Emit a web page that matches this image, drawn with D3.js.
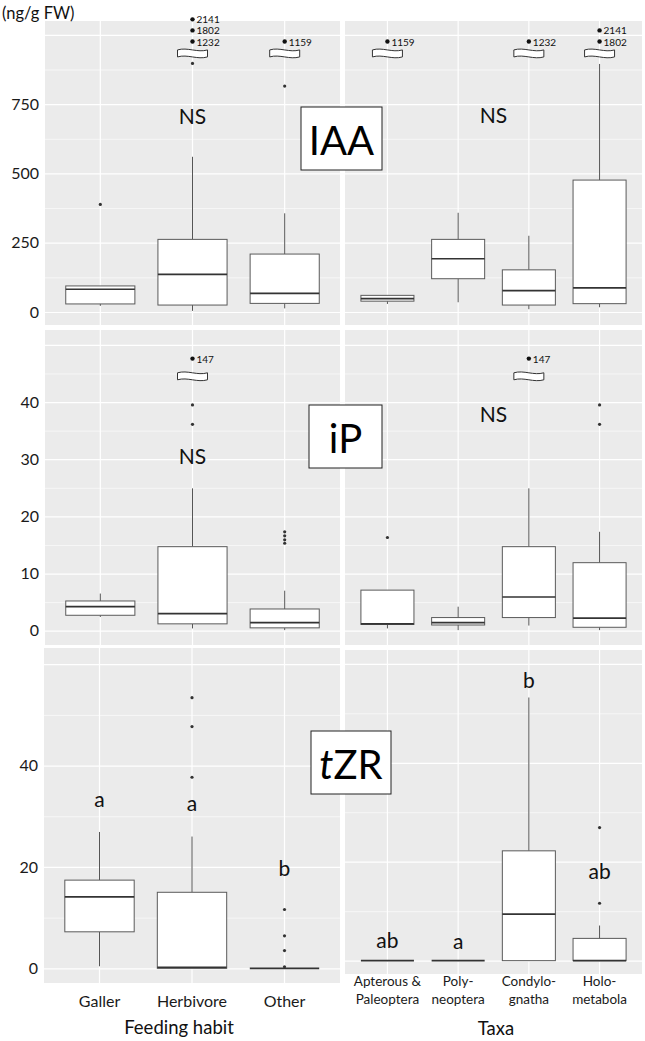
<!DOCTYPE html>
<html><head><meta charset="utf-8">
<script src="https://cdn.jsdelivr.net/npm/d3@7"></script>
<style>
body{margin:0;background:#fff;}
text{font-family:Lato,"Open Sans","Liberation Sans",sans-serif;}
</style>
</head><body>
<svg id="c" width="645" height="1041"></svg>
<script>
// ---------- categories ----------
const feedingCats = ["Galler","Herbivore","Other"];
const taxaCats = ["Apterous & Paleoptera","Polyneoptera","Condylognatha","Holometabola"];
const taxaTickLines = [["Apterous &","Paleoptera"],["Poly-","neoptera"],["Condylo-","gnatha"],["Holo-","metabola"]];
const hormoneNames = ["IAA","iP","tZR"];

// ---------- box statistics: [lower whisker, Q1, median, Q3, upper whisker] ----------
const iaaFeeding = [[22,29,82,94,94],[4,25,136,262,560],[13,31,67,209,356]];
const iaaFeedingOut = [[388],[897],[815]];
const iaaFeedingExtreme = [[],[1232,1802,2141],[1159]];
const iaaTaxa = [[29,39,48,60,60],[35,120,192,262,358],[10,25,77,152,275],[17,30,87,476,895]];
const iaaTaxaOut = [[],[],[],[]];
const iaaTaxaExtreme = [[1159],[],[1232],[1802,2141]];

const ipFeeding = [[2.4,2.7,4.2,5.2,6.5],[0.4,1.2,3.0,14.7,24.9],[0.1,0.5,1.4,3.8,7.0]];
const ipFeedingOut = [[],[36.1,39.5],[15.3,15.9,16.6,17.3]];
const ipFeedingExtreme = [[],[147],[]];
const ipTaxa = [[0.4,1.1,1.2,7.1,7.1],[0.1,1.0,1.4,2.3,4.2],[0.9,2.3,5.9,14.7,24.9],[0.1,0.6,2.2,11.9,17.3]];
const ipTaxaOut = [[16.3],[],[],[36.1,39.5]];
const ipTaxaExtreme = [[],[],[147],[]];

const tzrFeeding = [[0.4,7.2,14.1,17.4,26.9],[0,0,0.2,15.0,26.0],[0,0,0,0,0]];
const tzrFeedingOut = [[],[37.7,47.7,53.4],[0.3,3.5,6.4,11.6]];
const tzrTaxa = [[0,0,0,0,0],[0,0,0,0,0],[0,0,9.4,22.2,53.2],[0,0,0,4.5,7.1]];
const tzrTaxaOut = [[],[],[],[11.6,26.9]];

// ---------- tick values ----------
const iaaMajor = [0,250,500,750,1000], iaaMinor = [125,375,625,875], iaaLabels = [0,250,500,750];
const ipMajor = [0,10,20,30,40,50], ipMinor = [5,15,25,35,45], ipLabels = [0,10,20,30,40];
const tzrMajor = [0,20,40,60], tzrMinor = [10,30,50], tzrLabels = [0,20,40];

// ---------- significance annotations ----------
const tzrFeedingLetters = ["a","a","b"], tzrFeedingLetterY = [33.5,32.7,19.8];
const tzrTaxaLetters = ["ab","a","b","ab"], tzrTaxaLetterY = [4.3,4.0,56.8,18.3];

const svg = d3.select("#c");

function drawPanel(p){
  const g = svg.append("g");
  g.append("rect").attr("x",p.x).attr("y",p.y).attr("width",p.w).attr("height",p.h).attr("fill","#ebebeb");
  const x = d3.scaleBand().domain(p.cats).range([p.x,p.x+p.w]).paddingInner(0).paddingOuter(0.1);
  const y = d3.scaleLinear().domain(p.domain).range([p.y+p.h,p.y]);
  const step = x.step(), bw = 0.75*step;
  const cxOf = k => x(p.cats[0]) + x.bandwidth()/2 + k*step;

  // grid
  const grid = (vals,sw)=> g.append("g").attr("transform",`translate(${p.x},0)`)
    .call(d3.axisLeft(y).tickValues(vals).tickSize(-p.w).tickFormat(""))
    .call(s=>{s.select(".domain").remove();s.selectAll("line").attr("stroke","#fff").attr("stroke-width",sw);});
  grid(p.minor,0.6); grid(p.major,1.2);
  g.append("g").attr("transform",`translate(0,${p.y+p.h})`)
    .call(d3.axisBottom(x).tickSize(p.h).tickFormat(""))
    .call(s=>{s.select(".domain").remove();s.selectAll("line").attr("stroke","#fff").attr("stroke-width",1.2).attr("transform",`translate(0,${-p.h})`);});

  // y labels
  if(p.labels){
    g.append("g").attr("transform",`translate(${p.x},0)`)
      .call(d3.axisLeft(y).tickValues(p.labels).tickSize(0).tickPadding(6))
      .call(s=>{s.select(".domain").remove();s.selectAll("text").attr("font-size",16).attr("fill","#1a1a1a").attr("font-family","Lato, sans-serif");});
  }

  // boxes
  p.stats.forEach((s,i)=>{
    const cx = cxOf(i);
    g.append("line").attr("x1",cx).attr("x2",cx).attr("y1",y(s[0])).attr("y2",y(s[1])).attr("stroke","#555").attr("stroke-width",1);
    g.append("line").attr("x1",cx).attr("x2",cx).attr("y1",y(s[3])).attr("y2",y(s[4])).attr("stroke","#555").attr("stroke-width",1);
    g.append("rect").attr("x",cx-bw/2).attr("width",bw).attr("y",y(s[3])).attr("height",Math.max(0,y(s[1])-y(s[3])))
      .attr("fill","#fff").attr("stroke","#5a5a5a").attr("stroke-width",1);
    g.append("line").attr("x1",cx-bw/2).attr("x2",cx+bw/2).attr("y1",y(s[2])).attr("y2",y(s[2])).attr("stroke","#333").attr("stroke-width",1.7);
    (p.out[i]||[]).forEach(v=>{
      g.append("circle").attr("cx",cx).attr("cy",y(v)).attr("r",1.6).attr("fill","#333");
    });
    const ex = p.extreme ? p.extreme[i] : [];
    if(ex && ex.length){
      const by = y(p.breakVal), hw = 15, hh = 3.5;
      const x0 = cx-hw, x1 = cx+hw, yt = by-hh, yb = by+hh;
      g.append("path").attr("d",`M${x0},${yt} C${x0+10},${yt-3} ${x0+20},${yt+3} ${x1},${yt} L${x1},${yb} C${x1-10},${yb+3} ${x0+10},${yb-3} ${x0},${yb} Z`)
        .attr("fill","#fff").attr("stroke","#333").attr("stroke-width",1);
      ex.forEach((v,j)=>{
        const ey = y(p.extStart + j*p.extStep);
        g.append("circle").attr("cx",cx).attr("cy",ey).attr("r",2.2).attr("fill","#111");
        g.append("text").attr("x",cx+4).attr("y",ey).attr("dominant-baseline","central")
          .attr("font-size",p.extFont).attr("fill","#111").text(v);
      });
    }
  });

  // annotations
  (p.notes||[]).forEach(n=>{
    g.append("text").attr("x",cxOf(n.k)).attr("y",y(n.v)).attr("text-anchor","middle")
      .attr("dominant-baseline","central").attr("font-size",21).attr("fill","#111").text(n.t);
  });
  return {x,y,cxOf};
}

// ---------- panels ----------
drawPanel({x:45,y:21,w:295,h:304,cats:feedingCats,domain:[-47,1050],major:iaaMajor,minor:iaaMinor,labels:iaaLabels,
  stats:iaaFeeding,out:iaaFeedingOut,extreme:iaaFeedingExtreme,breakVal:933,extStart:976,extStep:40,extFont:10,
  notes:[{k:1,v:708,t:"NS"}]});
drawPanel({x:345,y:21,w:297,h:304,cats:taxaCats,domain:[-47,1050],major:iaaMajor,minor:iaaMinor,
  stats:iaaTaxa,out:iaaTaxaOut,extreme:iaaTaxaExtreme,breakVal:933,extStart:976,extStep:40,extFont:10,
  notes:[{k:1.5,v:711,t:"NS"}]});

drawPanel({x:45,y:330,w:295,h:315,cats:feedingCats,domain:[-2.5,52.6],major:ipMajor,minor:ipMinor,labels:ipLabels,
  stats:ipFeeding,out:ipFeedingOut,extreme:ipFeedingExtreme,breakVal:44.5,extStart:47.6,extStep:3,extFont:10,
  notes:[{k:1,v:30.7,t:"NS"}]});
drawPanel({x:345,y:330,w:297,h:315,cats:taxaCats,domain:[-2.5,52.6],major:ipMajor,minor:ipMinor,
  stats:ipTaxa,out:ipTaxaOut,extreme:ipTaxaExtreme,breakVal:44.5,extStart:47.6,extStep:3,extFont:10,
  notes:[{k:1.5,v:38.0,t:"NS"}]});

const bl = drawPanel({x:44,y:648,w:296,h:335,cats:feedingCats,domain:[-2.9,63.2],major:tzrMajor,minor:tzrMinor,labels:tzrLabels,
  stats:tzrFeeding,out:tzrFeedingOut,
  notes:tzrFeedingLetters.map((t,i)=>({k:i,v:tzrFeedingLetterY[i],t}))});
const br = drawPanel({x:345,y:650,w:297,h:324,cats:taxaCats,domain:[-2.7,62.8],major:tzrMajor,minor:tzrMinor,
  stats:tzrTaxa,out:tzrTaxaOut,
  notes:tzrTaxaLetters.map((t,i)=>({k:i,v:tzrTaxaLetterY[i],t}))});

// ---------- x axes ----------
svg.append("g").attr("transform","translate(0,983)")
  .call(d3.axisBottom(bl.x).tickSize(0).tickPadding(13))
  .call(s=>{s.select(".domain").remove();s.selectAll("text").attr("font-size",16).attr("fill","#1a1a1a").attr("font-family","Lato, sans-serif");});
svg.append("g").attr("transform","translate(0,974)")
  .call(d3.axisBottom(br.x).tickSize(0).tickFormat(""))
  .call(s=>s.select(".domain").remove());
taxaCats.forEach((c,i)=>{
  const t = svg.append("text").attr("x",br.cxOf(i)).attr("y",986).attr("text-anchor","middle").attr("font-size",13.5).attr("fill","#1a1a1a");
  taxaTickLines[i].forEach((ln,j)=>t.append("tspan").attr("x",br.cxOf(i)).attr("dy",j?18:0).text(ln));
});
svg.append("text").attr("x",179).attr("y",1027).attr("text-anchor","middle").attr("dominant-baseline","central").attr("font-size",18.5).attr("fill","#111").text("Feeding habit");
svg.append("text").attr("x",496).attr("y",1028).attr("text-anchor","middle").attr("dominant-baseline","central").attr("font-size",18.5).attr("fill","#111").text("Taxa");
svg.append("text").attr("x",2).attr("y",13).attr("dominant-baseline","central").attr("font-size",16.5).attr("fill","#111").text("(ng/g FW)");

// ---------- hormone label boxes ----------
const labelBoxes = [{x:301,y:107,w:81,h:63},{x:309,y:405,w:73,h:63},{x:311,y:731,w:80,h:63}];
labelBoxes.forEach((b,i)=>{
  svg.append("rect").attr("x",b.x).attr("y",b.y).attr("width",b.w).attr("height",b.h).attr("fill","#fff").attr("stroke","#222").attr("stroke-width",1);
  const t = svg.append("text").attr("x",b.x+b.w/2).attr("y",b.y+b.h/2+1).attr("text-anchor","middle").attr("dominant-baseline","central")
    .attr("font-size",40).attr("fill","#000");
  if(hormoneNames[i]==="tZR"){
    t.append("tspan").attr("font-style","italic").text("t");
    t.append("tspan").text("ZR");
  } else t.text(hormoneNames[i]);
});
</script>
</body></html>
